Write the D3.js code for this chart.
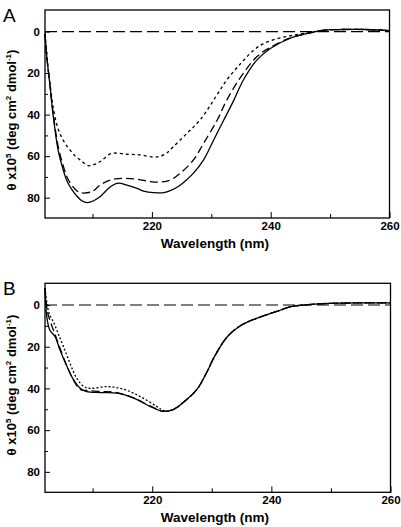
<!DOCTYPE html>
<html><head><meta charset="utf-8">
<script src="https://cdn.jsdelivr.net/npm/d3@7"></script>
<style>body{margin:0;background:#fff}svg{display:block}text{font-family:"Liberation Sans",Arial,sans-serif}</style>
</head><body>
<script>
// Panel A data
const aSolidW = [202,202.3,202.8,203.4,204.2,205,205.7,206.5,207.3,208.2,209.1,210.2,211.3,212.4,213.4,214.4,215.8,217.5,218.6,220.3,222,223.2,224.5,226,227,228.7,230.4,232.1,233.8,235.4,237.7,240,243.3,246,249.4,252,256,260];
const aSolidV = [1,12,25,41,57,66,72,76,79,81.5,82.4,81.5,79.5,76.3,74,73,74,75.5,76.8,77.6,77.6,76.5,74.5,71,68.2,61.8,52.2,42.6,33,23.3,13.6,8,3.2,1,-0.8,-1,-1,-0.5];
const aDashW = [202,202.3,202.8,203.4,204.2,205,205.7,206.5,207.3,207.9,209.9,211.3,213,215.2,217.5,219.7,221.4,223.1,224.8,227,228.7,231,232.6,235,237.7,240,243.3,246,249.4,252,256,260];
const aDashV = [1,12,25,40,55,64,70,74,76.5,77.6,77.1,73.9,71.5,70.7,71.1,72.3,72.5,71.5,68.2,61.8,53.8,42.6,33,21.7,12,7.5,3,1,-0.8,-1,-1,-0.5];
const aDotW = [202,202.3,202.8,203.4,204,204.5,205.3,206.2,207.1,207.9,209.3,210.3,211.3,213.2,215.8,218,220.3,221.4,222.5,223.6,225.9,228.1,230.4,232.6,235,237.2,238.9,241,243.3,246,249.4,252,256,260];
const aDotV = [1,12,24,37,45,49,53.5,57,60,61.8,64.6,64,62.6,58.7,59.1,59.4,60.5,60,58.5,55.5,49,42.6,33,23.3,15.2,8.8,5.6,3.5,2,0.7,-0.8,-1,-1,-0.5];

// Panel B data
const bSolidW = [202,202.3,202.8,203.7,204.5,205.7,206.8,207.9,209,211.3,214.1,216.9,219.7,221.9,223.6,225.3,227.5,229.2,230.4,232.6,235,238.3,241.6,243.3,246.7,250,255,260];
const bSolidV = [-8,5.6,12,15.2,21.5,29.5,35.9,39.9,41.5,42,42.3,44.7,48.7,51,50,46.5,40.5,32,25,15.2,9.6,5.6,2.4,0.8,-0.3,-0.8,-1,-1];
const bDashW = [202,202.4,202.9,203.6,204.5,205.7,206.8,207.9,209,211.3,214.1,216.9,219.7,221.9,223.6,225.3,227.5,229.2,230.4,232.6,235,238.3,241.6,243.3,246.7,250,255,260];
const bDashV = [-8,3,8,13.5,20.5,29.5,36,40.5,41,41.5,42,44.5,48.5,51,50,46.5,40.5,32,25,15.2,9.6,5.6,2.4,0.8,-0.3,-0.8,-1,-1];
const bDotW = [202,202.5,203,203.4,204.2,205.1,206.2,207.3,208.5,209.6,212.4,215.2,218,220.8,222.1,223.6,225.3,227.5,229.2,230.4,232.6,235,238.3,241.6,243.3,246.7,250,255,260];
const bDotV = [-8,2,6,8,13.6,20,28,35,39,40,39.1,40.4,43.9,48.7,50.8,50,46.5,40.5,32,25,15.2,9.6,5.6,2.4,0.8,-0.3,-0.8,-1,-1];

const xTicks = [220,240,260];
const xMinor = [210,230,250];
const yTicks = [0,20,40,60,80];
const yMinor = [10,30,50,70];
const xTitle = "Wavelength (nm)";

const svg = d3.select("body").append("svg").attr("width",401).attr("height",527);

function panel(cfg){
  const x = d3.scaleLinear().domain([202,260]).range([cfg.left,cfg.right]);
  const y = d3.scaleLinear().domain([-10.4,89.8]).range([cfg.top,cfg.bottom]);
  const g = svg.append("g");
  g.append("rect").attr("x",cfg.left).attr("y",cfg.top).attr("width",cfg.right-cfg.left).attr("height",cfg.bottom-cfg.top)
    .attr("fill","none").attr("stroke","#000").attr("stroke-width",1.3);
  const ax = g.append("g").attr("transform",`translate(0,${cfg.bottom})`)
    .call(d3.axisBottom(x).tickValues(xTicks).tickSize(-6).tickPadding(4).tickFormat(d3.format("d")));
  ax.select(".domain").remove();
  ax.selectAll("text").attr("font-size",11.5).attr("font-weight","bold").attr("fill","#000");
  const axm = g.append("g").attr("transform",`translate(0,${cfg.bottom})`)
    .call(d3.axisBottom(x).tickValues(xMinor).tickSize(-4).tickFormat(""));
  axm.select(".domain").remove();
  const ay = g.append("g").attr("transform",`translate(${cfg.left},0)`)
    .call(d3.axisLeft(y).tickValues(yTicks).tickSize(-5).tickPadding(5).tickFormat(d3.format("d")));
  ay.select(".domain").remove();
  ay.selectAll("text").attr("font-size",11.5).attr("font-weight","bold").attr("fill","#000");
  const aym = g.append("g").attr("transform",`translate(${cfg.left},0)`)
    .call(d3.axisLeft(y).tickValues(yMinor).tickSize(-3).tickFormat(""));
  aym.select(".domain").remove();
  g.selectAll(".tick line").attr("stroke","#000").attr("stroke-width",1);
  g.append("line").attr("x1",x(202)).attr("x2",x(260)).attr("y1",y(0)).attr("y2",y(0))
    .attr("stroke","#000").attr("stroke-width",1.2).attr("stroke-dasharray","12,5");
  const line = d3.line().x(d=>x(d[0])).y(d=>y(d[1])).curve(d3.curveCatmullRom.alpha(0.5));
  cfg.series.forEach(s=>{
    g.append("path").datum(s.w.map((w,i)=>[w,s.v[i]])).attr("d",line)
      .attr("fill","none").attr("stroke","#000").attr("stroke-width",1.3)
      .attr("stroke-dasharray",s.dash);
  });
  g.append("text").attr("x",3).attr("y",cfg.top+12).attr("font-size",19).text(cfg.label);
  g.append("text").attr("x",215).attr("y",cfg.bottom+30).attr("text-anchor","middle")
    .attr("font-size",13.5).attr("font-weight","bold").text(xTitle);
  const yt = g.append("text").attr("transform",`translate(16,${cfg.ytc}) rotate(-90)`)
    .attr("text-anchor","middle").attr("font-size",13).attr("font-weight","bold");
  yt.append("tspan").text("θ x10");
  yt.append("tspan").attr("font-size",8).attr("dy",-5).text("5");
  yt.append("tspan").attr("dy",5).text(" (deg cm");
  yt.append("tspan").attr("font-size",8).attr("dy",-5).text("2");
  yt.append("tspan").attr("dy",5).text(" dmol");
  yt.append("tspan").attr("font-size",8).attr("dy",-5).text("-1");
  yt.append("tspan").attr("dy",5).text(")");
}

panel({top:10,bottom:218,left:45,right:389.5,label:"A",ytc:120,series:[
  {w:aSolidW,v:aSolidV,dash:null},
  {w:aDashW,v:aDashV,dash:"8,4"},
  {w:aDotW,v:aDotV,dash:"3,3"}]});
panel({top:283.3,bottom:492.3,left:45,right:390.5,label:"B",ytc:385,series:[
  {w:bSolidW,v:bSolidV,dash:null},
  {w:bDashW,v:bDashV,dash:"8,4"},
  {w:bDotW,v:bDotV,dash:"2,2"}]});
</script>
</body></html>
